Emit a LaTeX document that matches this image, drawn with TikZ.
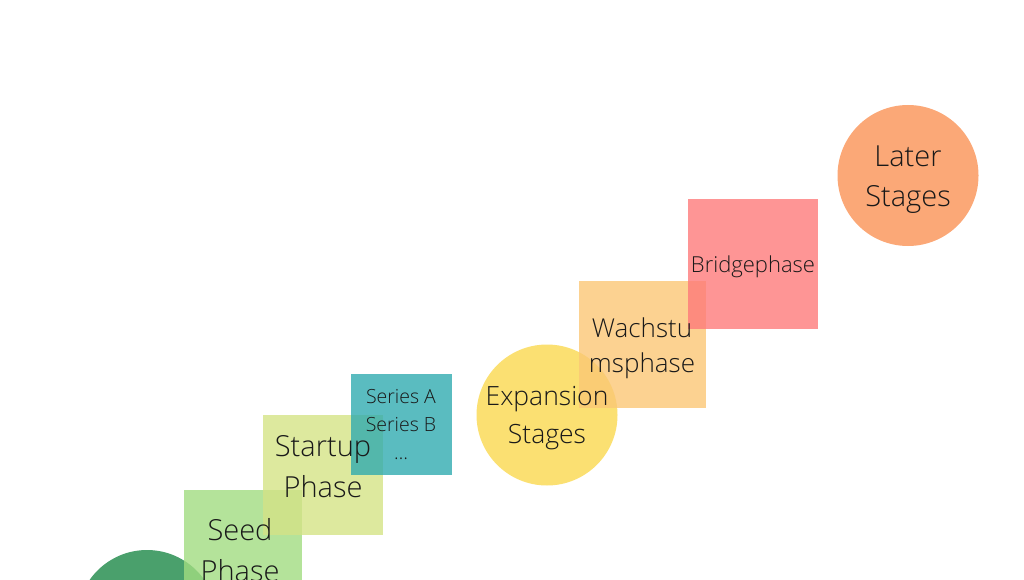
\documentclass[tikz,border=0pt]{standalone}
\usepackage{fontspec}
\setmainfont{Open Sans Light}
\usepackage{tikz}
\usetikzlibrary{shapes}
\usetikzlibrary{positioning}
\definecolor{seedgreen}{RGB}{161,220,129}
\definecolor{darkgreen}{RGB}{74,160,108}
\definecolor{startupgreen}{RGB}{212,227,134}
\definecolor{seriesteal}{RGB}{49,171,176}
\definecolor{expyellow}{RGB}{250,219,89}
\definecolor{growthorange}{RGB}{251,199,118}
\definecolor{bridgered}{RGB}{254,122,122}
\definecolor{laterorange}{RGB}{251,168,119}
\definecolor{inktext}{RGB}{25,25,25}
\tikzset{
  square node/.style={rectangle,inner sep=0pt,fill opacity=0.8},
  round node/.style={circle,inner sep=0pt,minimum size=141pt},
  label node/.style={align=center,text=inktext},
  big text/.style={font=\fontsize{29}{41}\selectfont},
  mid text/.style={font=\fontsize{26.5}{38}\selectfont},
  small text/.style={font=\fontsize{19.5}{28}\selectfont}
}
\begin{document}
\begin{tikzpicture}[x=1pt,y=-1pt]
	\useasboundingbox (0,0) rectangle (1024,580);
	% shapes
	\node [round node,fill=darkgreen,minimum size=140pt] (pre) at (147,620) {};
	\node [square node,fill=seedgreen,minimum size=118pt] (seed) at (243,549) {};
	\node [square node,fill=startupgreen,minimum size=120pt] (startup) at (323,475) {};
	\node [square node,fill=seriesteal,minimum size=101pt] (series) at (401,424.5) {};
	\node [round node,fill=expyellow,fill opacity=0.85] (expansion) at (547,415) {};
	\node [square node,fill=growthorange,minimum size=127pt] (growth) at (642,344.5) {};
	\node [square node,fill=bridgered,minimum size=130pt] (bridge) at (753,264) {};
	\node [round node,fill=laterorange] (later) at (908,175.5) {};
	% texts
	\node [label node,big text] (seed text) at ([xshift=-3pt,yshift=-1pt]seed.center) {Seed\\Phase};
	\node [label node,big text] (startup text) at ([yshift=8pt]startup.center) {Startup\\Phase};
	\node [label node,small text] (series text) at ([yshift=-0.5pt]series.center) {Series A\\Series B\\\dots};
	\node [label node,mid text] (expansion text) at ([yshift=-3pt]expansion.center) {Expansion\\Stages};
	\node [label node,font=\fontsize{26}{35}\selectfont] (growth text) at ([yshift=-3.5pt]growth.center) {Wachstu\\msphase};
	\node [label node,font=\fontsize{22}{28}\selectfont] (bridge text) at ([yshift=-3pt]bridge.center) {Bridgephase};
	\node [label node,font=\fontsize{29}{40}\selectfont] (later text) at ([yshift=-4pt]later.center) {Later\\Stages};
\end{tikzpicture}
\end{document}
